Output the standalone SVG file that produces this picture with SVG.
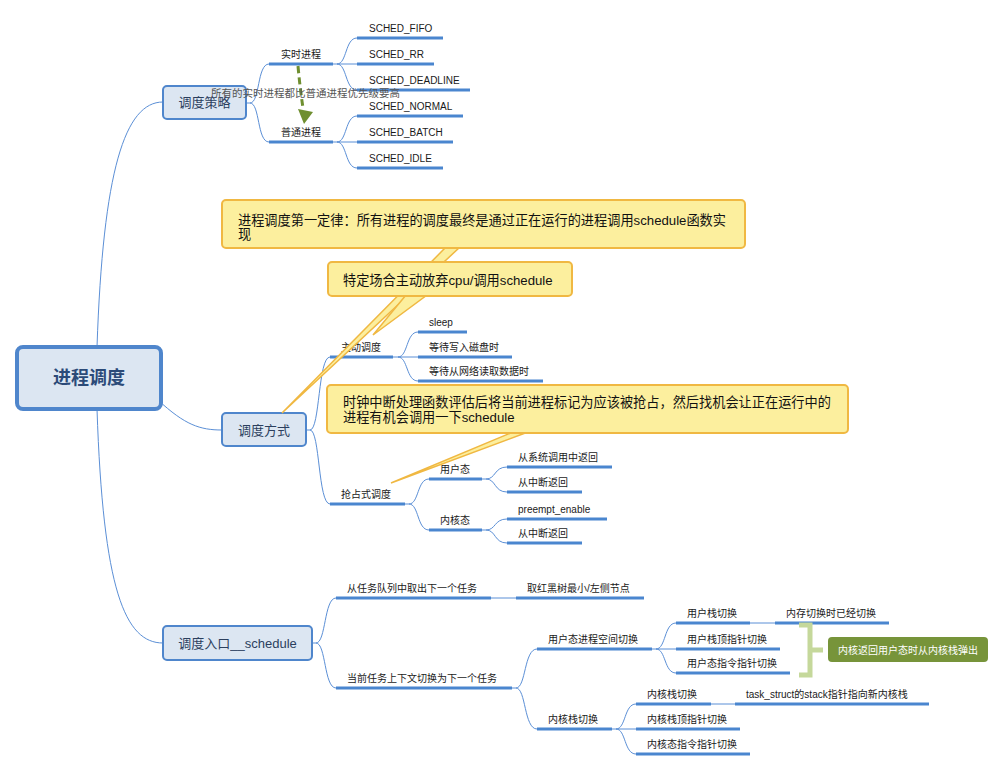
<svg xmlns="http://www.w3.org/2000/svg" width="1005" height="771" viewBox="0 0 1005 771">
<defs>
<style>
.t{font-family:"Liberation Sans","Noto Sans CJK SC",sans-serif;font-size:10px;fill:#1a1a1a}
.t2{font-family:"Liberation Sans","Noto Sans CJK SC",sans-serif;font-size:13px;fill:#2b3f5e}
.tc{font-family:"Liberation Sans","Noto Sans CJK SC",sans-serif;font-size:13.2px;fill:#111}
.ul{stroke:#4a86cf;stroke-width:3;fill:none}
.ln{fill:none;stroke:#5b8fd6;stroke-width:1}
.box{fill:#dce6f2;stroke:#4f86cc;stroke-width:2}
.co{fill:#fcef9e;stroke:#f0b842;stroke-width:2}
.tail{fill:#fcef9e;stroke:#f0b842;stroke-width:1.5;stroke-linejoin:miter}
</style>
</defs>
<rect width="1005" height="771" fill="#ffffff"/>

<g id="connectors">
<path class="ln" d="M97,347 C103,170 125,102 163,102"/>
<path class="ln" d="M97,409 C103,590 125,643 163,643"/>
<path class="ln" d="M158,400 C185,425 200,430 222,430"/>
<path class="ln" d="M246,103 L250,103 C260,103 257,64 269,64"/>
<path class="ln" d="M250,103 C260,103 257,142 269,142"/>
<path class="ln" d="M333,64 L337,64 C347,64 345,38 357,38"/>
<path class="ln" d="M337,64 L357,64"/>
<path class="ln" d="M337,64 C347,64 345,90 357,90"/>
<path class="ln" d="M333,142 L337,142 C347,142 345,116 357,116"/>
<path class="ln" d="M337,142 L357,142"/>
<path class="ln" d="M337,142 C347,142 345,168 357,168"/>
<path class="ln" d="M306,430 L310,430 C320,430 318,357 330,357"/>
<path class="ln" d="M310,430 C320,430 318,504 330,504"/>
<path class="ln" d="M393,357 L398,357 C408,357 406,332 418,332"/>
<path class="ln" d="M398,357 L418,357"/>
<path class="ln" d="M398,357 C408,357 406,381 418,381"/>
<path class="ln" d="M405,504 L409,504 C419,504 417,479 429,479"/>
<path class="ln" d="M409,504 C419,504 417,530 429,530"/>
<path class="ln" d="M482,479 L486,479 C496,479 494,467 507,467"/>
<path class="ln" d="M486,479 C496,479 494,492 507,492"/>
<path class="ln" d="M482,530 L486,530 C496,530 494,519 507,519"/>
<path class="ln" d="M486,530 C496,530 494,543 507,543"/>
<path class="ln" d="M312,643 L316,643 C326,643 324,598 336,598"/>
<path class="ln" d="M316,643 C326,643 324,688 336,688"/>
<path class="ln" d="M491,598 L516,598"/>
<path class="ln" d="M512,688 L516,688 C526,688 524,649 537,649"/>
<path class="ln" d="M516,688 C526,688 524,729 537,729"/>
<path class="ln" d="M652,649 L656,649 C666,649 664,623 676,623"/>
<path class="ln" d="M656,649 L676,649"/>
<path class="ln" d="M656,649 C666,649 664,673 676,673"/>
<path class="ln" d="M750,623 L775,623"/>
<path class="ln" d="M612,729 L616,729 C626,729 624,704 636,704"/>
<path class="ln" d="M616,729 L636,729"/>
<path class="ln" d="M616,729 C626,729 624,754 636,754"/>
<path class="ln" d="M711,704 L735,704"/>
</g>

<g id="root">
<rect x="17" y="347" width="144" height="62" rx="6" fill="#dce6f2" stroke="#4f86cc" stroke-width="4"/>
<text x="89" y="384" text-anchor="middle" font-family="Liberation Sans,Noto Sans CJK SC,sans-serif" font-size="18" font-weight="bold" fill="#2b4a78">进程调度</text>
</g>

<g id="n-celue">
<rect class="box" x="163" y="86" width="83" height="33" rx="4"/>
<text class="t2" x="204.5" y="107" text-anchor="middle">调度策略</text>
</g>
<g id="n-fangshi">
<rect class="box" x="222" y="413" width="84" height="33" rx="4"/>
<text class="t2" x="264" y="434.5" text-anchor="middle">调度方式</text>
</g>
<g id="n-rukou">
<rect class="box" x="163" y="626" width="149" height="34" rx="4"/>
<text class="t2" x="237.5" y="647.5" text-anchor="middle">调度入口__schedule</text>
</g>

<g id="n-shishi"><line class="ul" x1="269" y1="64" x2="333" y2="64"/><text class="t" x="301" y="58" text-anchor="middle">实时进程</text></g>
<g id="n-putong"><line class="ul" x1="269" y1="142" x2="333" y2="142"/><text class="t" x="301" y="136" text-anchor="middle">普通进程</text></g>
<g id="n-fifo"><line class="ul" x1="357" y1="38" x2="443" y2="38"/><text class="t" x="369" y="32">SCHED_FIFO</text></g>
<g id="n-rr"><line class="ul" x1="357" y1="64" x2="434" y2="64"/><text class="t" x="369" y="58">SCHED_RR</text></g>
<g id="n-deadline"><line class="ul" x1="357" y1="90" x2="470" y2="90"/><text class="t" x="369" y="84">SCHED_DEADLINE</text></g>
<g id="n-normal"><line class="ul" x1="357" y1="116" x2="463" y2="116"/><text class="t" x="369" y="110">SCHED_NORMAL</text></g>
<g id="n-batch"><line class="ul" x1="357" y1="142" x2="453" y2="142"/><text class="t" x="369" y="136">SCHED_BATCH</text></g>
<g id="n-idle"><line class="ul" x1="357" y1="168" x2="443" y2="168"/><text class="t" x="369" y="162">SCHED_IDLE</text></g>

<g id="rel-priority">
<path d="M298,66 Q300,88 303,108" fill="none" stroke="#6f8f30" stroke-width="3" stroke-dasharray="7,4"/>
<polygon points="298,109 313,112 304,124" fill="#6f8f30"/>
<text x="211" y="96.5" font-family="Liberation Sans,Noto Sans CJK SC,sans-serif" font-size="10.5" fill="#555555">所有的实时进程都比普通进程优先级要高</text>
</g>

<g id="n-zhudong"><line class="ul" x1="330" y1="357" x2="393" y2="357"/><text class="t" x="341" y="351">主动调度</text></g>
<g id="n-sleep"><line class="ul" x1="418" y1="332" x2="467" y2="332"/><text class="t" x="429" y="326">sleep</text></g>
<g id="n-disk"><line class="ul" x1="418" y1="357" x2="512" y2="357"/><text class="t" x="429" y="351">等待写入磁盘时</text></g>
<g id="n-net"><line class="ul" x1="418" y1="381" x2="543" y2="381"/><text class="t" x="429" y="375">等待从网络读取数据时</text></g>

<g id="n-qiangzhan"><line class="ul" x1="330" y1="504" x2="405" y2="504"/><text class="t" x="341" y="498">抢占式调度</text></g>
<g id="n-yonghutai"><line class="ul" x1="429" y1="479" x2="482" y2="479"/><text class="t" x="440" y="473">用户态</text></g>
<g id="n-neihetai"><line class="ul" x1="429" y1="530" x2="482" y2="530"/><text class="t" x="440" y="524">内核态</text></g>
<g id="n-syscall"><line class="ul" x1="507" y1="467" x2="612" y2="467"/><text class="t" x="518" y="461">从系统调用中返回</text></g>
<g id="n-irq1"><line class="ul" x1="507" y1="492" x2="582" y2="492"/><text class="t" x="518" y="486">从中断返回</text></g>
<g id="n-preempt"><line class="ul" x1="507" y1="519" x2="607" y2="519"/><text class="t" x="518" y="513">preempt_enable</text></g>
<g id="n-irq2"><line class="ul" x1="507" y1="543" x2="582" y2="543"/><text class="t" x="518" y="537">从中断返回</text></g>

<g id="n-quchu"><line class="ul" x1="336" y1="598" x2="491" y2="598"/><text class="t" x="347" y="592">从任务队列中取出下一个任务</text></g>
<g id="n-rbtree"><line class="ul" x1="516" y1="598" x2="644" y2="598"/><text class="t" x="527" y="592">取红黑树最小/左侧节点</text></g>
<g id="n-switch"><line class="ul" x1="336" y1="688" x2="512" y2="688"/><text class="t" x="347" y="682">当前任务上下文切换为下一个任务</text></g>
<g id="n-userspace"><line class="ul" x1="537" y1="649" x2="652" y2="649"/><text class="t" x="548" y="643">用户态进程空间切换</text></g>
<g id="n-kstack"><line class="ul" x1="537" y1="729" x2="612" y2="729"/><text class="t" x="548" y="723">内核栈切换</text></g>
<g id="n-ustack"><line class="ul" x1="676" y1="623" x2="750" y2="623"/><text class="t" x="687" y="617">用户栈切换</text></g>
<g id="n-mem"><line class="ul" x1="775" y1="623" x2="889" y2="623"/><text class="t" x="786" y="617">内存切换时已经切换</text></g>
<g id="n-usp"><line class="ul" x1="676" y1="649" x2="780" y2="649"/><text class="t" x="687" y="643">用户栈顶指针切换</text></g>
<g id="n-uip"><line class="ul" x1="676" y1="673" x2="790" y2="673"/><text class="t" x="687" y="667">用户态指令指针切换</text></g>
<g id="n-kstack2"><line class="ul" x1="636" y1="704" x2="711" y2="704"/><text class="t" x="647" y="698">内核栈切换</text></g>
<g id="n-taskstruct"><line class="ul" x1="735" y1="704" x2="929" y2="704"/><text class="t" x="746" y="698">task_struct的stack指针指向新内核栈</text></g>
<g id="n-ksp"><line class="ul" x1="636" y1="729" x2="740" y2="729"/><text class="t" x="647" y="723">内核栈顶指针切换</text></g>
<g id="n-kip"><line class="ul" x1="636" y1="754" x2="750" y2="754"/><text class="t" x="647" y="748">内核态指令指针切换</text></g>

<g id="summary">
<path d="M799,625 L810,625 L810,675 L799,675 M810,650 L823,650" fill="none" stroke="#c5d89b" stroke-width="5"/>
<rect x="828" y="637" width="160" height="25" rx="4" fill="#77943a"/>
<text x="908" y="653.5" text-anchor="middle" font-family="Liberation Sans,Noto Sans CJK SC,sans-serif" font-size="10" fill="#ffffff">内核返回用户态时从内核栈弹出</text>
</g>

<g id="callout-1">
<polygon class="tail" points="446,247 460,247 282,413"/>
<rect class="co" x="222" y="200" width="523" height="48" rx="4"/>
<text class="tc" x="238" y="224.5">进程调度第一定律：所有进程的调度最终是通过正在运行的进程调用schedule函数实</text>
<text class="tc" x="238" y="238.5">现</text>
</g>
<g id="callout-2">
<polygon class="tail" points="406,295 427,295 373,335"/>
<rect class="co" x="328" y="262" width="244" height="34" rx="4"/>
<text class="tc" x="343" y="284.5">特定场合主动放弃cpu/调用schedule</text>
</g>
<g id="callout-3">
<polygon class="tail" points="513,432 528,432 391,483"/>
<rect class="co" x="327" y="385" width="521" height="48" rx="4"/>
<text class="tc" x="343" y="406.5">时钟中断处理函数评估后将当前进程标记为应该被抢占，然后找机会让正在运行中的</text>
<text class="tc" x="343" y="421.5">进程有机会调用一下schedule</text>
</g>
</svg>
